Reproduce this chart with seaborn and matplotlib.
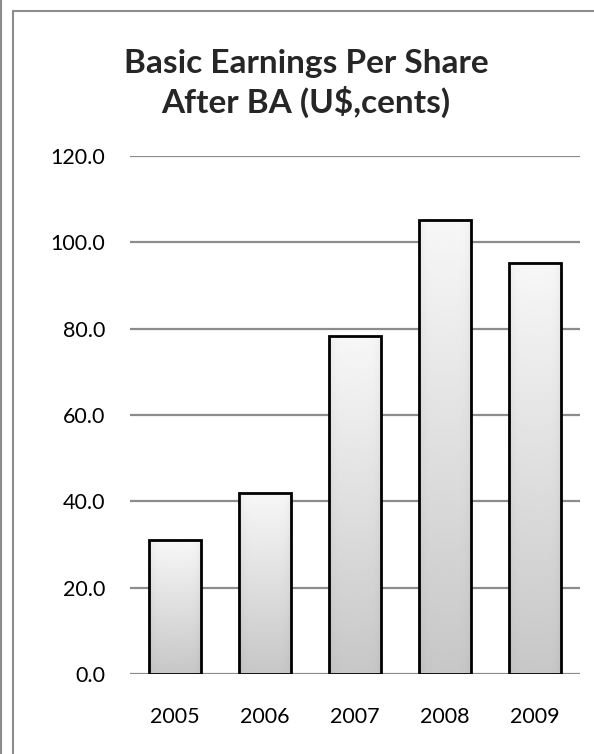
import numpy as np
import pandas as pd
import matplotlib
matplotlib.use("Agg")
import matplotlib.pyplot as plt
from matplotlib.lines import Line2D
import seaborn as sns

years = ["2005", "2006", "2007", "2008", "2009"]
eps = [31.0, 42.0, 78.3, 105.2, 95.2]
yticks = [0, 20, 40, 60, 80, 100, 120]

df = pd.DataFrame({"Year": years, "EPS": eps})

sns.set_style("white")
plt.rcParams["font.family"] = ["Lato", "DejaVu Sans"]

fig = plt.figure(figsize=(5.94, 7.54), dpi=100)
ax = fig.add_axes([0.219, 0.106, 0.757, 0.687])

sns.barplot(data=df, x="Year", y="EPS", color="#e0e0e0", width=0.58,
            edgecolor="black", linewidth=2, ax=ax, zorder=3)

# gradient fill clipped to each bar
ny, nx = 200, 60
vert = np.linspace(0.97, 0.78, ny)[:, None]
xs = np.linspace(-1, 1, nx)[None, :]
horiz = 1 - 0.05 * xs ** 6
grad = np.clip(vert * horiz, 0, 1)
for p in ax.patches:
    x0, y0 = p.get_x(), p.get_y()
    w, h = p.get_width(), p.get_height()
    im = ax.imshow(grad, cmap="gray", vmin=0, vmax=1, aspect="auto",
                   extent=[x0, x0 + w, y0, y0 + h], origin="upper",
                   zorder=3.5, interpolation="bilinear")
    im.set_clip_path(p)
    p.set_facecolor("none")
    p.set_zorder(4)

ax.set_xlim(-0.5, 4.5)
ax.set_ylim(0, 120)
ax.set_yticks(yticks)
ax.set_yticklabels([f"{v:.1f}" for v in yticks])
ax.yaxis.grid(True, color="#8c8c8c", linewidth=1.6, zorder=0)
ax.set_axisbelow(True)
ax.set_xlabel("")
ax.set_ylabel("")
for s in ax.spines.values():
    s.set_visible(False)
ax.tick_params(axis="both", length=0, labelsize=15.5, colors="black")
ax.tick_params(axis="y", pad=18)
ax.tick_params(axis="x", pad=24)

fig.text(0.515, 0.889, "Basic Earnings Per Share\nAfter BA (U$,cents)",
         ha="center", va="center", fontsize=24, fontweight="bold",
         linespacing=1.3)

# chart borders
fig.add_artist(Line2D([0.022, 0.022], [0, 0.985], color="#8c8c8c", lw=1.5))
fig.add_artist(Line2D([0.022, 1.0], [0.985, 0.985], color="#8c8c8c", lw=1.5))
fig.add_artist(Line2D([0.002, 0.002], [0, 1.0], color="#8c8c8c", lw=1.5))

fig.savefig("out.png", dpi=100)
